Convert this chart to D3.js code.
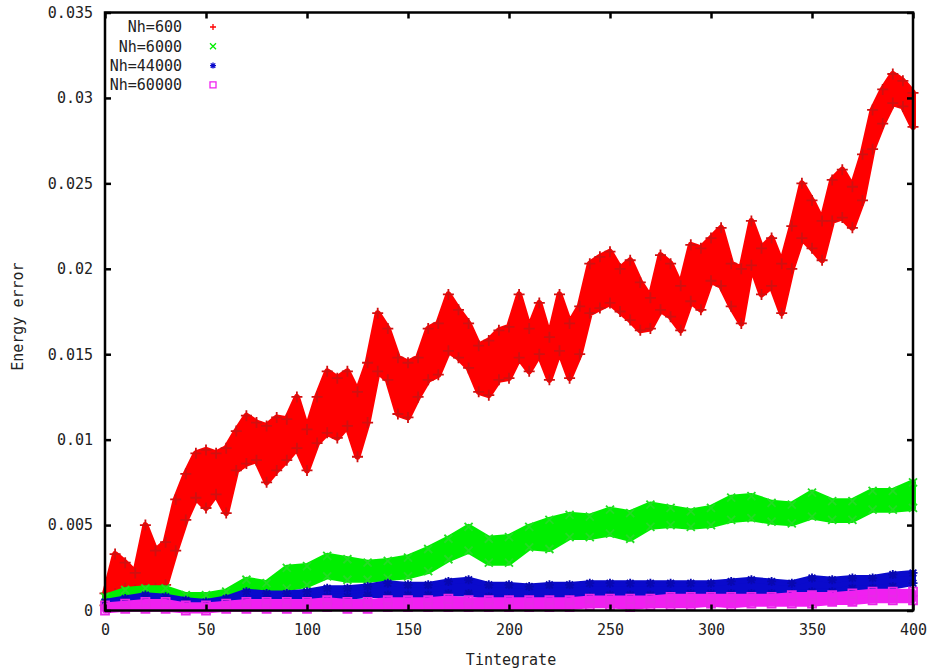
<!DOCTYPE html>
<html><head><meta charset="utf-8">
<script src="https://cdn.jsdelivr.net/npm/d3@7"></script>
<style>
html,body{margin:0;padding:0;background:#fff;}
svg text{font-family:"DejaVu Sans Mono",monospace;font-size:15px;fill:#222;}
</style></head>
<body><svg id="chart" width="933" height="670"></svg>
<script>
// ---- data ----
const xTicks = [0, 50, 100, 150, 200, 250, 300, 350, 400];
const yTicks = [0, 0.005, 0.01, 0.015, 0.02, 0.025, 0.03, 0.035];
const yTickLabels = ["0", "0.005", "0.01", "0.015", "0.02", "0.025", "0.03", "0.035"];
const seriesNames = ["Nh=600", "Nh=6000", "Nh=44000", "Nh=60000"];
const seriesColors = ["#ff0000", "#00ee00", "#0a0acc", "#f020f0"];

const tRed = [0,5,10,15,20,25,30,35,40,45,50,55,60,65,70,75,80,85,90,95,100,105,110,115,120,125,130,135,140,145,150,155,160,165,170,175,180,185,190,195,200,205,210,215,220,225,230,235,240,245,250,255,260,265,270,275,280,285,290,295,300,305,310,315,320,325,330,335,340,345,350,355,360,365,370,375,380,385,390,395,400];
const redHi = [0.0010,0.0033,0.0028,0.0022,0.0050,0.0035,0.0040,0.0065,0.0080,0.0092,0.0094,0.0092,0.0095,0.0105,0.0114,0.0110,0.0108,0.0113,0.0112,0.0125,0.0106,0.0125,0.0140,0.0136,0.0140,0.0128,0.0145,0.0174,0.0165,0.0148,0.0145,0.0148,0.0165,0.0168,0.0185,0.0176,0.0168,0.0155,0.0158,0.0164,0.0166,0.0185,0.0165,0.0180,0.0160,0.0185,0.0168,0.0178,0.0203,0.0207,0.0210,0.0200,0.0205,0.0192,0.0183,0.0208,0.0203,0.0190,0.0214,0.0212,0.0218,0.0224,0.0203,0.0200,0.0228,0.0212,0.0218,0.0203,0.0225,0.0250,0.0240,0.0228,0.0252,0.0258,0.0248,0.0267,0.0293,0.0305,0.0314,0.0310,0.0303];
const redLo = [0.0003,0.0010,0.0013,0.0012,0.0013,0.0013,0.0015,0.0035,0.0053,0.0066,0.0060,0.0068,0.0057,0.0082,0.0086,0.0088,0.0075,0.0082,0.0088,0.0095,0.0082,0.0098,0.0104,0.0101,0.0108,0.0090,0.0110,0.0140,0.0135,0.0115,0.0113,0.0125,0.0135,0.0138,0.0152,0.0148,0.0142,0.0128,0.0126,0.0135,0.0136,0.0148,0.0140,0.0150,0.0135,0.0152,0.0136,0.0150,0.0174,0.0177,0.0180,0.0175,0.0170,0.0164,0.0165,0.0176,0.0172,0.0164,0.0181,0.0176,0.0193,0.0190,0.0178,0.0168,0.0202,0.0185,0.0190,0.0174,0.0200,0.0218,0.0212,0.0205,0.0228,0.0230,0.0224,0.0240,0.0270,0.0285,0.0297,0.0295,0.0283];

const tOther = [0,10,20,30,40,50,60,70,80,90,100,110,120,130,140,150,160,170,180,190,200,210,220,230,240,250,260,270,280,290,300,310,320,330,340,350,360,370,380,390,400];
const greenHi = [0.0008,0.0012,0.0013,0.0013,0.0009,0.0009,0.0011,0.0018,0.0016,0.0025,0.0026,0.0032,0.0030,0.0028,0.0029,0.0031,0.0036,0.0042,0.0049,0.0042,0.0043,0.0049,0.0053,0.0056,0.0055,0.0059,0.0057,0.0062,0.0060,0.0058,0.0060,0.0066,0.0067,0.0063,0.0062,0.0069,0.0064,0.0064,0.0070,0.0070,0.0075];
const greenLo = [0.0003,0.0007,0.0007,0.0006,0.0004,0.0004,0.0006,0.0010,0.0009,0.0013,0.0015,0.0020,0.0018,0.0018,0.0019,0.0020,0.0023,0.0030,0.0035,0.0028,0.0028,0.0037,0.0036,0.0043,0.0043,0.0045,0.0042,0.0049,0.0050,0.0049,0.0050,0.0053,0.0054,0.0052,0.0051,0.0055,0.0053,0.0053,0.0059,0.0059,0.0060];
const blueHi = [0.0005,0.0007,0.0009,0.0008,0.0006,0.0005,0.0007,0.0011,0.0010,0.0010,0.0011,0.0013,0.0013,0.0014,0.0016,0.0015,0.0015,0.0017,0.0018,0.0015,0.0015,0.0014,0.0015,0.0015,0.0016,0.0016,0.0016,0.0016,0.0016,0.0016,0.0016,0.0017,0.0018,0.0017,0.0016,0.0019,0.0018,0.0019,0.0019,0.0021,0.0022];
const blueLo = [0.0002,0.0004,0.0005,0.0004,0.0003,0.0002,0.0003,0.0006,0.0006,0.0006,0.0007,0.0008,0.0008,0.0009,0.0009,0.0009,0.0009,0.0010,0.0010,0.0008,0.0007,0.0007,0.0007,0.0007,0.0008,0.0009,0.0009,0.0009,0.0009,0.0010,0.0010,0.0010,0.0010,0.0010,0.0010,0.0011,0.0011,0.0013,0.0013,0.0014,0.0016];
const magHi = [0.0003,0.0004,0.0005,0.0005,0.0003,0.0003,0.0004,0.0005,0.0005,0.0005,0.0005,0.0006,0.0005,0.0005,0.0006,0.0006,0.0006,0.0007,0.0006,0.0006,0.0006,0.0006,0.0006,0.0006,0.0007,0.0007,0.0007,0.0007,0.0008,0.0008,0.0008,0.0008,0.0008,0.0008,0.0009,0.0009,0.0009,0.0010,0.0011,0.0011,0.0011];
const magLo = [0.0000,0.0001,0.0001,0.0001,0.0000,0.0000,0.0001,0.0001,0.0001,0.0001,0.0001,0.0002,0.0001,0.0001,0.0002,0.0002,0.0002,0.0002,0.0002,0.0002,0.0002,0.0002,0.0002,0.0002,0.0003,0.0003,0.0002,0.0003,0.0003,0.0003,0.0004,0.0003,0.0004,0.0004,0.0004,0.0004,0.0005,0.0005,0.0006,0.0006,0.0006];

// ---- drawing ----
const svg = d3.select("#chart");
const margin = {left: 105, right: 20, top: 12.5, bottom: 59.5};
const W = 933, H = 670;
const x = d3.scaleLinear().domain([0, 400]).range([margin.left, W - margin.right]);
const y = d3.scaleLinear().domain([0, 0.035]).range([H - margin.bottom, margin.top]);

const markerPaths = {
  plus: s => `M${-s},0H${s}M0,${-s}V${s}`,
  cross: s => `M${-s},${-s}L${s},${s}M${-s},${s}L${s},${-s}`,
  star: s => `M${-s},0H${s}M0,${-s}V${s}M${-s*0.75},${-s*0.75}L${s*0.75},${s*0.75}M${-s*0.75},${s*0.75}L${s*0.75},${-s*0.75}`,
  square: s => `M${-s},${-s}H${s}V${s}H${-s}Z`
};

const series = [
  {t: tRed, hi: redHi, lo: redLo, color: seriesColors[0], mk: "plus", size: 5.5, edge: "#d01010"},
  {t: tOther, hi: greenHi, lo: greenLo, color: seriesColors[1], mk: "cross", size: 4, edge: "#22dd22"},
  {t: tOther, hi: blueHi, lo: blueLo, color: seriesColors[2], mk: "star", size: 4.5, edge: "#0808b0"},
  {t: tOther, hi: magHi, lo: magLo, color: seriesColors[3], mk: "square", size: 4, edge: "#e828e8"}
];

const area = d3.area()
  .x(d => x(d.t)).y0(d => y(d.lo)).y1(d => y(d.hi)).curve(d3.curveLinear);

const plot = svg.append("g");
series.forEach(s => {
  const rows = s.t.map((t, i) => ({t: t, hi: s.hi[i], lo: s.lo[i]}));
  const g = plot.append("g");
  g.append("path").datum(rows).attr("d", area)
    .attr("fill", s.color).attr("stroke", s.color).attr("stroke-width", 6).attr("stroke-linejoin", "round");
  const pts = [];
  rows.forEach(r => { pts.push({t: r.t, v: r.hi}); pts.push({t: r.t, v: r.lo}); });
  g.selectAll("path.m").data(pts).join("path").attr("class", "m")
    .attr("transform", d => `translate(${x(d.t)},${y(d.v)})`)
    .attr("d", markerPaths[s.mk](s.size))
    .attr("fill", "none").attr("stroke", s.edge).attr("stroke-width", 1.8);
});

// frame
svg.append("rect")
  .attr("x", x(0)).attr("y", y(0.035))
  .attr("width", x(400) - x(0)).attr("height", y(0) - y(0.035))
  .attr("fill", "none").attr("stroke", "#000").attr("stroke-width", 2.5);

// axes with inward ticks on all sides
const tl = 6;
const axB = d3.axisBottom(x).tickValues(xTicks).tickSize(-tl).tickPadding(14).tickFormat(d3.format("d"));
const axT = d3.axisTop(x).tickValues(xTicks).tickSize(-tl).tickFormat("");
const axL = d3.axisLeft(y).tickValues(yTicks).tickSize(-tl).tickPadding(12).tickFormat((d, i) => yTickLabels[i]);
const axR = d3.axisRight(y).tickValues(yTicks).tickSize(-tl).tickFormat("");
[[axB, `translate(0,${y(0)})`], [axT, `translate(0,${y(0.035)})`], [axL, `translate(${x(0)},0)`], [axR, `translate(${x(400)},0)`]]
  .forEach(([ax, tr]) => {
    const g = svg.append("g").attr("transform", tr).call(ax);
    g.select(".domain").remove();
    g.selectAll(".tick line").attr("stroke", "#000").attr("stroke-width", 2.5);
    g.selectAll("text").attr("font-family", "DejaVu Sans Mono, monospace").attr("font-size", 15).attr("fill", "#222");
  });

// axis titles
svg.append("text").attr("x", x(201)).attr("y", 665).attr("text-anchor", "middle").text("Tintegrate");
svg.append("text").attr("transform", `translate(23,${y(0.0172)}) rotate(-90)`).attr("text-anchor", "middle").text("Energy error");

// legend
const leg = svg.append("g");
seriesNames.forEach((name, i) => {
  const ly = 27 + i * 19.3;
  leg.append("text").attr("x", 182).attr("y", ly).attr("dy", "0.35em").attr("text-anchor", "end").text(name);
  leg.append("path").attr("transform", `translate(213,${ly})`)
    .attr("d", markerPaths[series[i].mk](3))
    .attr("fill", "none").attr("stroke", series[i].color).attr("stroke-width", 1.3);
});
</script></body></html>
